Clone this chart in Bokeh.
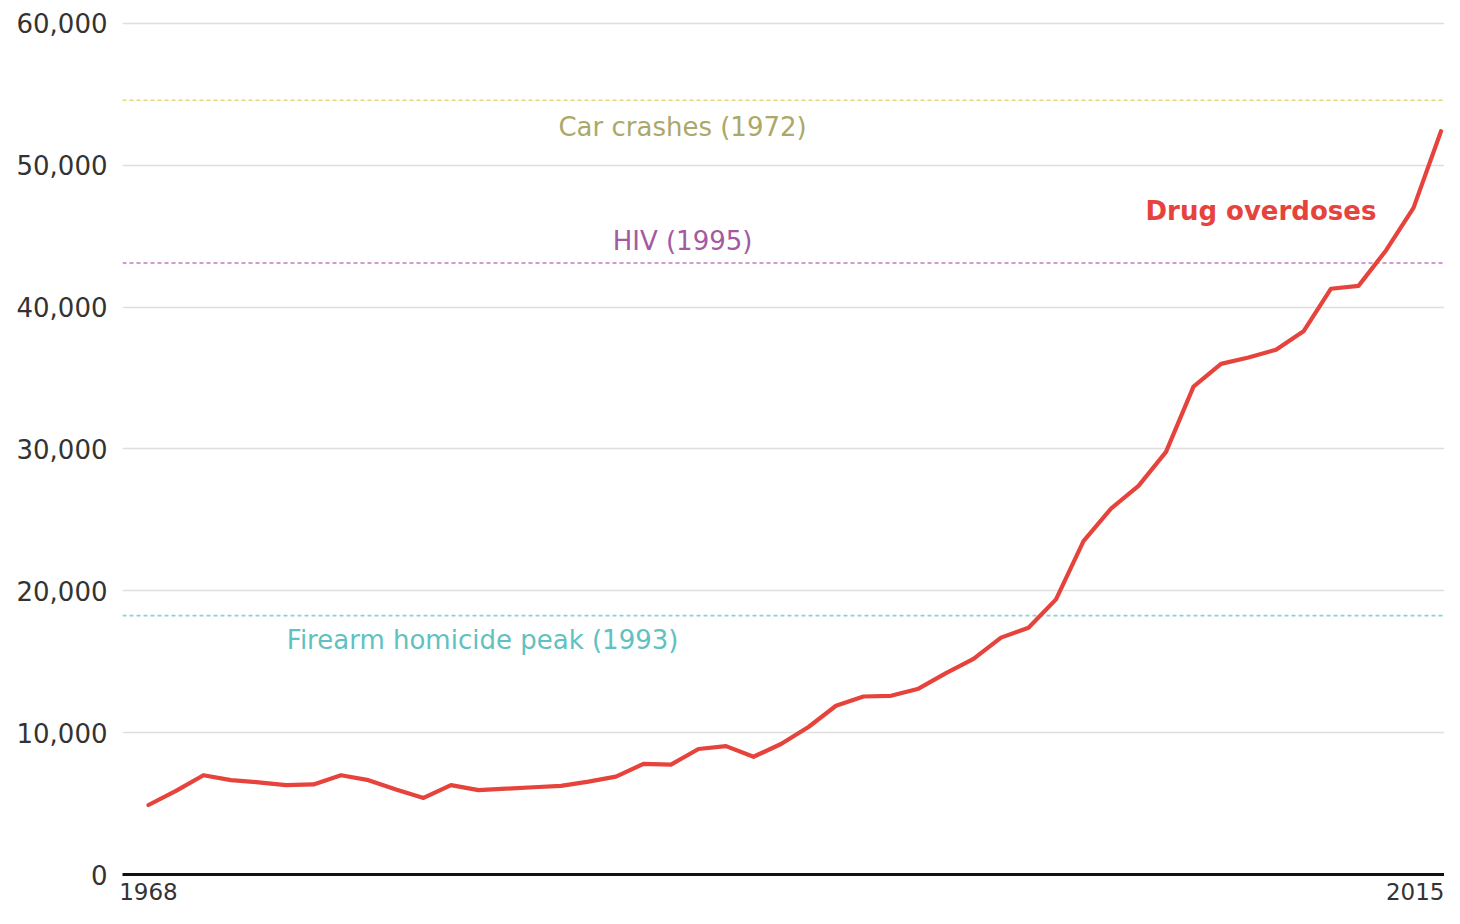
from bokeh.plotting import figure
from bokeh.models import Span, FixedTicker, NumeralTickFormatter, Range1d, ColumnDataSource
from bokeh.core.properties import value
from bokeh.embed import file_html
from bokeh.resources import INLINE

# ---- data ----
years = list(range(1968, 2016))
overdose_deaths = [
    4900, 5900, 7000, 6650, 6500, 6300, 6350, 7000, 6650, 6000,
    5400, 6300, 5950, 6050, 6150, 6250, 6550, 6900, 7800, 7750,
    8850, 9050, 8300, 9200, 10400, 11900, 12550, 12600, 13100, 14200,
    15200, 16700, 17400, 19400, 23500, 25800, 27400, 29800, 34400, 36000,
    36450, 37000, 38300, 41300, 41500, 44000, 47000, 52400,
]
ref_names = ["Car crashes (1972)", "HIV (1995)", "Firearm homicide peak (1993)"]
ref_values = [54589, 43115, 18253]
y_ticks = [0, 10000, 20000, 30000, 40000, 50000, 60000]
x_ticks = [1968, 2015]
series_label = "Drug overdoses"

# ---- styles ----
FONT = "DejaVu Sans"
ref_line_colors = ["#e3d77c", "#c27ac4", "#86d3d3"]
ref_text_colors = ["#aba869", "#a45aa3", "#5fc1c2"]
ref_label_x = [1987.42, 1987.42, 1980.15]
ref_label_dy = [27, -22, 24]
RED = "#e5433b"

p = figure(
    width=1444, height=908,
    x_range=Range1d(1967.055, 2015.127),
    y_range=Range1d(0, 61057),
    output_backend="svg", toolbar_location=None,
    min_border_left=122, min_border_right=0,
    min_border_top=8, min_border_bottom=34,
)
p.outline_line_color = None
p.background_fill_color = "white"
p.border_fill_color = "white"

# grid
p.xgrid.grid_line_color = None
p.ygrid.ticker = FixedTicker(ticks=y_ticks)
p.ygrid.grid_line_color = "#dedede"
p.ygrid.grid_line_width = 1.5

# y axis
p.yaxis.ticker = FixedTicker(ticks=y_ticks)
p.yaxis.formatter = NumeralTickFormatter(format="0,0")
p.yaxis.axis_line_color = None
p.yaxis.major_tick_line_color = None
p.yaxis.minor_tick_line_color = None
p.yaxis.major_label_standoff = 9
p.yaxis.major_label_text_font = FONT
p.yaxis.major_label_text_font_size = "26px"
p.yaxis.major_label_text_color = "#333333"

# x axis
p.xaxis.ticker = FixedTicker(ticks=x_ticks)
p.xaxis.axis_line_color = "#111111"
p.xaxis.axis_line_width = 3
p.xaxis.major_tick_line_color = None
p.xaxis.minor_tick_line_color = None
p.xaxis.major_label_standoff = 2
p.xaxis.major_label_text_font = FONT
p.xaxis.major_label_text_font_size = "23px"
p.xaxis.major_label_text_color = "#333333"

# reference lines
for v, c in zip(ref_values, ref_line_colors):
    p.add_layout(Span(location=v, dimension="width", line_color=c,
                      line_width=1.6, line_dash="4 3", level="underlay"))

ref_src = ColumnDataSource(dict(
    x=ref_label_x, y=ref_values, text=ref_names,
    color=ref_text_colors, dy=ref_label_dy,
))
p.text(x="x", y="y", text="text", source=ref_src, text_color="color",
       y_offset="dy", text_align="center", text_baseline="middle",
       text_font=value(FONT), text_font_size="26px")

# main series
p.line(years, overdose_deaths, line_color=RED, line_width=4.2,
       line_join="round", line_cap="round")

p.text(x=[2012.65], y=[46800], text=[series_label], text_color=RED,
       text_align="right", text_baseline="middle",
       text_font=value(FONT), text_font_style="bold", text_font_size="26px")

open("out.html", "w").write(file_html(p, INLINE))
